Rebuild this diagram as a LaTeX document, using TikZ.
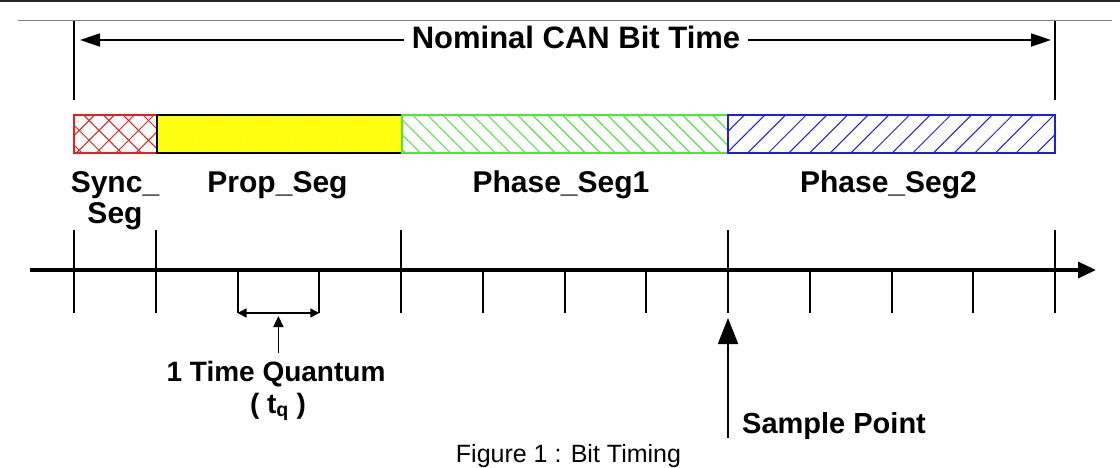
\documentclass[tikz,border=0pt]{standalone}
\usepackage{fontspec}
\setmainfont{Liberation Sans}
\usetikzlibrary{arrows.meta,patterns.meta}
\definecolor{syncred}{RGB}{235,30,30}
\definecolor{propyellow}{RGB}{255,255,0}
\definecolor{phgreen}{RGB}{70,235,50}
\definecolor{phblue}{RGB}{30,30,225}
\begin{document}
\begin{tikzpicture}[x=1pt,y=-1pt,
  lbl/.style={font=\fontsize{30}{32}\selectfont\bfseries, inner sep=0pt, anchor=base},
  ttl/.style={font=\fontsize{31}{33}\selectfont\bfseries, inner sep=0pt, anchor=base},
  splbl/.style={font=\fontsize{29}{31}\selectfont\bfseries, inner sep=0pt, anchor=base west},
  qlbl/.style={font=\fontsize{28}{30}\selectfont\bfseries, inner sep=0pt, anchor=base},
  tick/.style={line width=2pt},
  bound/.style={line width=1.8pt},
  segbox/.style={line width=1.3pt}]
\useasboundingbox (0,0) rectangle (1120,467);
\fill[white] (0,0) rectangle (1120,467);
% screenshot frame lines
\draw[line width=2pt, black!85] (0,1) -- (1120,1);
\draw[line width=1pt, gray] (18,20.5) -- (1112,20.5);
% quantum positions
\foreach \i in {0,...,12} {
  \coordinate (q\i) at ({74+81.75*\i},270);
  \coordinate (b\i) at ({74+81.75*\i},313);
}
% bit time bounds
\coordinate (lt) at (74,21);  \coordinate (lb) at (74,100);
\coordinate (rt) at (1055,21); \coordinate (rb) at (1055,100);
\draw[bound] (lt) -- (lb);
\draw[bound] (rt) -- (rb);
% title with arrows
\node[ttl, inner xsep=8pt] (title) at (576,48) {Nominal CAN Bit Time};
\coordinate (nl) at (80,40);
\coordinate (nr) at (1051,40);
\draw[line width=1.8pt, {Triangle[length=20pt,width=13pt]}-] (nl) -- (title.west |- nl);
\draw[line width=1.8pt, -{Triangle[length=20pt,width=13pt]}] (title.east |- nr) -- (nr);
% segments bar
\fill[pattern={Lines[angle=45,distance=14pt,line width=1pt]}, pattern color=syncred] (74,115) rectangle (157,153);
\fill[pattern={Lines[angle=-45,distance=14pt,line width=1pt]}, pattern color=syncred] (74,115) rectangle (157,153);
\draw[segbox, syncred] (74,115) rectangle (157,153);
\fill[propyellow] (157,115) rectangle (402,153);
\fill[pattern={Dots[radius=0.6pt,distance=3pt]}, pattern color=yellow!35!white] (157,115) rectangle (402,153);
\draw[segbox, black] (157,115) rectangle (402,153);
\fill[pattern={Lines[angle=-45,distance=10.6pt,line width=1pt]}, pattern color=phgreen] (402,115) rectangle (728,153);
\draw[segbox, phgreen] (402,115) rectangle (728,153);
\fill[pattern={Lines[angle=45,distance=14.6pt,line width=1pt]}, pattern color=phblue] (728,115) rectangle (1055,153);
\draw[segbox, phblue] (728,115) rectangle (1055,153);
% segment labels
\node[lbl] (sync) at (115,192) {Sync\_};
\node[lbl] (sync2) at (115,223) {Seg};
\node[lbl] (prop) at (277.5,192) {Prop\_Seg};
\node[lbl] (ph1) at (561,192) {Phase\_Seg1};
\node[lbl] (ph2) at (888.5,192) {Phase\_Seg2};
% time axis
\coordinate (ax0) at (30,270);
\coordinate (ax1) at (1096,270);
\draw[line width=3.5pt, -{Triangle[length=18pt,width=16pt]}] (ax0) -- (ax1);
\foreach \i in {0,1,4,8,12} \draw[tick] (q\i) ++(0,-40) -- (b\i);
\foreach \i in {2,3,5,6,7,9,10,11} \draw[tick] (q\i) -- (b\i);
% time quantum
\draw[line width=1.6pt, {Triangle[length=9pt,width=9pt]}-{Triangle[length=9pt,width=9pt]}] (b2) -- (b3);
\coordinate (tqa) at (278.4,316);
\coordinate (tqb) at (278.4,353);
\draw[line width=1.6pt, -{Triangle[length=11pt,width=10pt]}] (tqb) -- (tqa);
\node[qlbl] (tq) at (276,381) {1 Time Quantum};
\node[qlbl] (tq2) at (278,413) {( t\textsubscript{q} )};
% sample point
\coordinate (spa) at (728,318);
\coordinate (spb) at (728,438);
\draw[line width=1.8pt, -{Triangle[length=26pt,width=20pt]}] (spb) -- (spa);
\node[splbl] (sp) at (742,433) {Sample Point};
% caption
\node[font=\fontsize{25}{28}\selectfont, inner sep=0pt, anchor=base] (cap) at (568.5,462) {Figure 1 : Bit Timing};
\end{tikzpicture}
\end{document}
